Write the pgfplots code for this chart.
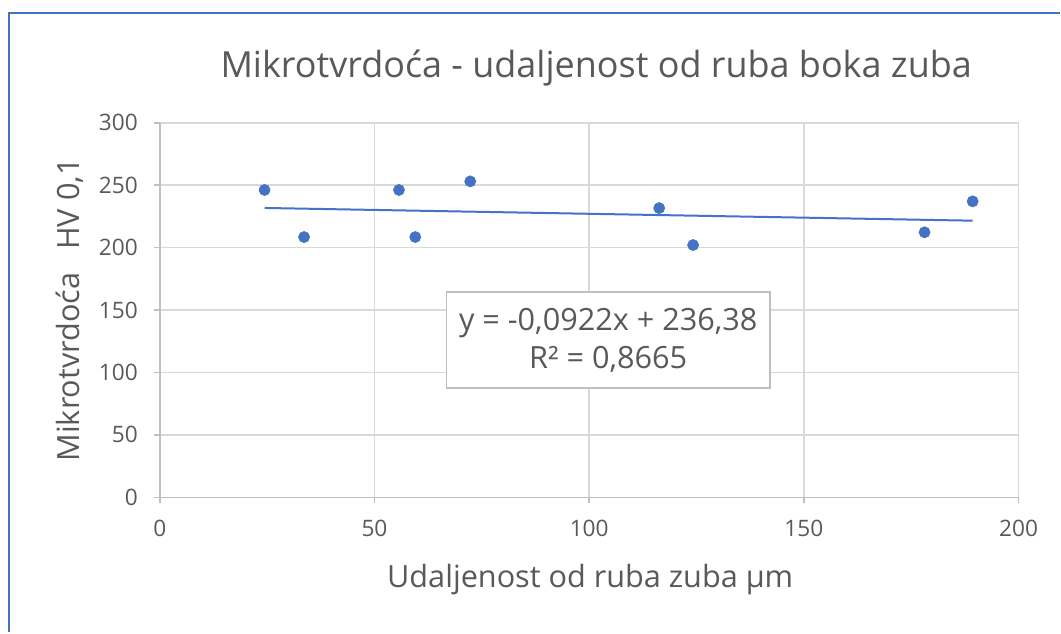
\documentclass[border=0pt]{standalone}
\usepackage{pgfplots}
\pgfplotsset{compat=1.18}
\usepackage{fontspec}
\setmainfont{Open Sans}
\definecolor{xlblue}{HTML}{4472C4}
\definecolor{txtgray}{HTML}{595959}
\definecolor{axgray}{HTML}{BFBFBF}
\definecolor{grdgray}{HTML}{D9D9D9}
\begin{document}
\begin{tikzpicture}
\fill[white] (0pt,0pt) rectangle (795.75pt,474.75pt);
\draw[xlblue,line width=2.2pt] (6.75pt,0pt) -- (6.75pt,465pt) -- (795.75pt,465pt);
\begin{axis}[
  at={(120pt,101.25pt)}, anchor=origin,
  scale only axis, width=645pt, height=281.25pt,
  xmin=0, xmax=200, ymin=0, ymax=300,
  xtick={0,50,...,200}, ytick={0,50,...,300},
  axis lines=left, axis line style={-, axgray, line width=1.2pt},
  grid=major, major grid style={grdgray, line width=1.2pt},
  tick align=outside, major tick length=4.5pt,
  tick style={axgray, line width=1.2pt},
  ticklabel style={font=\fontsize{17}{20}\selectfont, text=txtgray},
  /pgf/number format/assume math mode=true,
  xticklabel style={yshift=-9pt},
  yticklabel style={xshift=-8.5pt},
  clip=false,
]
\addplot[only marks, mark=*, mark size=4.2pt, mark options={fill=xlblue, draw=xlblue}] coordinates {
(24.4,246.2) (33.6,208.5) (55.7,246.2) (59.5,208.5) (72.3,253.1)
(116.3,231.7) (124.2,202.1) (178.1,212.3) (189.3,237.1)
};
\addplot[xlblue, line width=1.5pt] coordinates {(24.4,231.8) (189.3,221.6)};
\end{axis}
\node[text=txtgray, font=\fontsize{27}{32}\selectfont] at (447.75pt,423.75pt) {Mikrotvrdoća - udaljenost od ruba boka zuba};
\node[text=txtgray, font=\fontsize{23}{27}\selectfont] at (443.25pt,39.75pt) {Udaljenost od ruba zuba µm};
\node[text=txtgray, font=\fontsize{23}{27}\selectfont, rotate=90] at (52.5pt,242pt) {Mikrotvrdoća\hspace{0.75em}HV 0,1};
\node[draw=axgray, line width=1.2pt, fill=white, text=txtgray, font=\fontsize{23}{28.5}\selectfont, align=center, minimum width=243pt, minimum height=72pt, inner sep=2pt] at (456.75pt,219.4pt) {y = -0,0922x + 236,38\\R² = 0,8665};
\end{tikzpicture}
\end{document}
